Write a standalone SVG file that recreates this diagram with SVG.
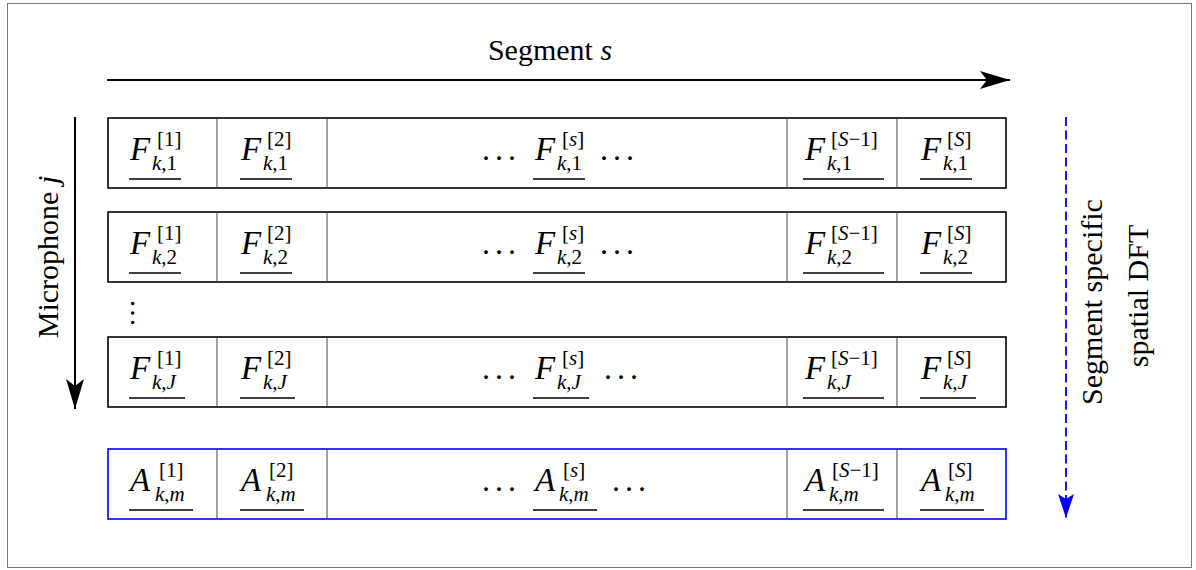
<svg xmlns="http://www.w3.org/2000/svg" width="1196" height="570" viewBox="0 0 1196 570" font-family="'Liberation Serif','DejaVu Serif',serif">
<style>
text{font-family:"Liberation Serif","DejaVu Serif",serif;fill:#000}
.m{font-size:21px}
.big{font-size:33px;font-style:italic}
.it{font-style:italic}
.lbl{font-size:30px}
.dots{font-size:32px;letter-spacing:5px}
.row{fill:#fff;stroke:#000;stroke-width:1.6}
.rowb{fill:#fff;stroke:#0000ff;stroke-width:1.6}
.div{stroke:#444;stroke-width:1}
.ul{stroke:#000;stroke-width:1.3}
</style>
<defs>
<marker id="stealth" markerUnits="userSpaceOnUse" markerWidth="34" markerHeight="22" refX="30" refY="10" orient="auto">
<path d="M0,1 L30,10 L0,19 L7,10 Z" fill="#000"/>
</marker>
<marker id="stealthB" markerUnits="userSpaceOnUse" markerWidth="28" markerHeight="20" refX="24" refY="9" orient="auto">
<path d="M0,1 L24,9 L0,17 L5,9 Z" fill="#0000ff"/>
</marker>
</defs>
<rect x="7.5" y="3.5" width="1184" height="564" fill="#fff" stroke="#777" stroke-width="1"/>

<g id="connectors">
<line x1="107" y1="80" x2="1010" y2="80" stroke="#000" stroke-width="2" marker-end="url(#stealth)"/>
<line x1="75" y1="117" x2="75" y2="409" stroke="#000" stroke-width="2" marker-end="url(#stealth)"/>
<line x1="1066" y1="117" x2="1066" y2="518" stroke="#0000ff" stroke-width="1.8" stroke-dasharray="9 4.5" marker-end="url(#stealthB)"/>
</g>

<g id="labels">
<text class="lbl" x="550" y="60" text-anchor="middle">Segment <tspan class="it">s</tspan></text>
<text class="lbl" transform="translate(58,257) rotate(-90)" text-anchor="middle">Microphone <tspan class="it">j</tspan></text>
<text class="lbl" transform="translate(1102,302) rotate(-90)" text-anchor="middle">Segment specific</text>
<text class="lbl" transform="translate(1148,296) rotate(-90)" text-anchor="middle">spatial DFT</text>
<text transform="translate(131,300) rotate(90)" style="font-size:28px;letter-spacing:2.5px">...</text>
</g>

<g id="row1">
<rect class="row" x="108" y="118" width="898" height="70"/>
<line class="div" x1="217" y1="118" x2="217" y2="188"/><line class="div" x1="327" y1="118" x2="327" y2="188"/><line class="div" x1="787" y1="118" x2="787" y2="188"/><line class="div" x1="897" y1="118" x2="897" y2="188"/>
<text class="m" x="130" y="160"><tspan class="big">F</tspan><tspan x="157" y="146">[1]</tspan><tspan x="152" y="170" class="it">k</tspan>,1</text><line class="ul" x1="129" y1="179" x2="181" y2="179"/>
<text class="m" x="241" y="160"><tspan class="big">F</tspan><tspan x="267" y="146">[2]</tspan><tspan x="263" y="170" class="it">k</tspan>,1</text><line class="ul" x1="240" y1="179" x2="292" y2="179"/>
<text class="dots" x="482" y="160">...</text><text class="m" x="535" y="160"><tspan class="big">F</tspan><tspan x="562" y="146">[</tspan><tspan class="it">s</tspan>]<tspan x="557" y="170" class="it">k</tspan>,1</text><line class="ul" x1="533" y1="179" x2="585" y2="179"/><text class="dots" x="600" y="160">...</text>
<text class="m" x="805" y="160"><tspan class="big">F</tspan><tspan x="831" y="146">[</tspan><tspan class="it">S</tspan>−1]<tspan x="827" y="170" class="it">k</tspan>,1</text><line class="ul" x1="803" y1="179" x2="884" y2="179"/>
<text class="m" x="921" y="160"><tspan class="big">F</tspan><tspan x="947" y="146">[</tspan><tspan class="it">S</tspan>]<tspan x="943" y="170" class="it">k</tspan>,1</text><line class="ul" x1="920" y1="179" x2="972" y2="179"/>
</g>

<g id="row2">
<rect class="row" x="108" y="212" width="898" height="70"/>
<line class="div" x1="217" y1="212" x2="217" y2="282"/><line class="div" x1="327" y1="212" x2="327" y2="282"/><line class="div" x1="787" y1="212" x2="787" y2="282"/><line class="div" x1="897" y1="212" x2="897" y2="282"/>
<text class="m" x="130" y="254"><tspan class="big">F</tspan><tspan x="157" y="240">[1]</tspan><tspan x="152" y="264" class="it">k</tspan>,2</text><line class="ul" x1="129" y1="273" x2="181" y2="273"/>
<text class="m" x="241" y="254"><tspan class="big">F</tspan><tspan x="267" y="240">[2]</tspan><tspan x="263" y="264" class="it">k</tspan>,2</text><line class="ul" x1="240" y1="273" x2="292" y2="273"/>
<text class="dots" x="482" y="254">...</text><text class="m" x="535" y="254"><tspan class="big">F</tspan><tspan x="562" y="240">[</tspan><tspan class="it">s</tspan>]<tspan x="557" y="264" class="it">k</tspan>,2</text><line class="ul" x1="533" y1="273" x2="585" y2="273"/><text class="dots" x="600" y="254">...</text>
<text class="m" x="805" y="254"><tspan class="big">F</tspan><tspan x="831" y="240">[</tspan><tspan class="it">S</tspan>−1]<tspan x="827" y="264" class="it">k</tspan>,2</text><line class="ul" x1="803" y1="273" x2="884" y2="273"/>
<text class="m" x="921" y="254"><tspan class="big">F</tspan><tspan x="947" y="240">[</tspan><tspan class="it">S</tspan>]<tspan x="943" y="264" class="it">k</tspan>,2</text><line class="ul" x1="920" y1="273" x2="972" y2="273"/>
</g>

<g id="row3">
<rect class="row" x="108" y="337" width="898" height="70"/>
<line class="div" x1="217" y1="337" x2="217" y2="407"/><line class="div" x1="327" y1="337" x2="327" y2="407"/><line class="div" x1="787" y1="337" x2="787" y2="407"/><line class="div" x1="897" y1="337" x2="897" y2="407"/>
<text class="m" x="130" y="379"><tspan class="big">F</tspan><tspan x="157" y="365">[1]</tspan><tspan x="152" y="389" class="it">k</tspan>,<tspan class="it">J</tspan></text><line class="ul" x1="129" y1="398" x2="185" y2="398"/>
<text class="m" x="241" y="379"><tspan class="big">F</tspan><tspan x="267" y="365">[2]</tspan><tspan x="263" y="389" class="it">k</tspan>,<tspan class="it">J</tspan></text><line class="ul" x1="240" y1="398" x2="295" y2="398"/>
<text class="dots" x="482" y="379">...</text><text class="m" x="535" y="379"><tspan class="big">F</tspan><tspan x="562" y="365">[</tspan><tspan class="it">s</tspan>]<tspan x="557" y="389" class="it">k</tspan>,<tspan class="it">J</tspan></text><line class="ul" x1="533" y1="398" x2="589" y2="398"/><text class="dots" x="604" y="379">...</text>
<text class="m" x="805" y="379"><tspan class="big">F</tspan><tspan x="831" y="365">[</tspan><tspan class="it">S</tspan>−1]<tspan x="827" y="389" class="it">k</tspan>,<tspan class="it">J</tspan></text><line class="ul" x1="803" y1="398" x2="884" y2="398"/>
<text class="m" x="921" y="379"><tspan class="big">F</tspan><tspan x="947" y="365">[</tspan><tspan class="it">S</tspan>]<tspan x="943" y="389" class="it">k</tspan>,<tspan class="it">J</tspan></text><line class="ul" x1="920" y1="398" x2="976" y2="398"/>
</g>

<g id="row4">
<rect class="rowb" x="108" y="449" width="898" height="70"/>
<line class="div" x1="217" y1="449" x2="217" y2="519"/><line class="div" x1="327" y1="449" x2="327" y2="519"/><line class="div" x1="787" y1="449" x2="787" y2="519"/><line class="div" x1="897" y1="449" x2="897" y2="519"/>
<text class="m" x="130" y="491"><tspan class="big">A</tspan><tspan x="159" y="477">[1]</tspan><tspan x="155" y="501" class="it">k</tspan>,<tspan class="it">m</tspan></text><line class="ul" x1="129" y1="510" x2="193" y2="510"/>
<text class="m" x="241" y="491"><tspan class="big">A</tspan><tspan x="269" y="477">[2]</tspan><tspan x="266" y="501" class="it">k</tspan>,<tspan class="it">m</tspan></text><line class="ul" x1="240" y1="510" x2="304" y2="510"/>
<text class="dots" x="482" y="491">...</text><text class="m" x="535" y="491"><tspan class="big">A</tspan><tspan x="563" y="477">[</tspan><tspan class="it">s</tspan>]<tspan x="559" y="501" class="it">k</tspan>,<tspan class="it">m</tspan></text><line class="ul" x1="533" y1="510" x2="597" y2="510"/><text class="dots" x="612" y="491">...</text>
<text class="m" x="805" y="491"><tspan class="big">A</tspan><tspan x="832" y="477">[</tspan><tspan class="it">S</tspan>−1]<tspan x="829" y="501" class="it">k</tspan>,<tspan class="it">m</tspan></text><line class="ul" x1="803" y1="510" x2="884" y2="510"/>
<text class="m" x="921" y="491"><tspan class="big">A</tspan><tspan x="948" y="477">[</tspan><tspan class="it">S</tspan>]<tspan x="945" y="501" class="it">k</tspan>,<tspan class="it">m</tspan></text><line class="ul" x1="920" y1="510" x2="984" y2="510"/>
</g>
</svg>
